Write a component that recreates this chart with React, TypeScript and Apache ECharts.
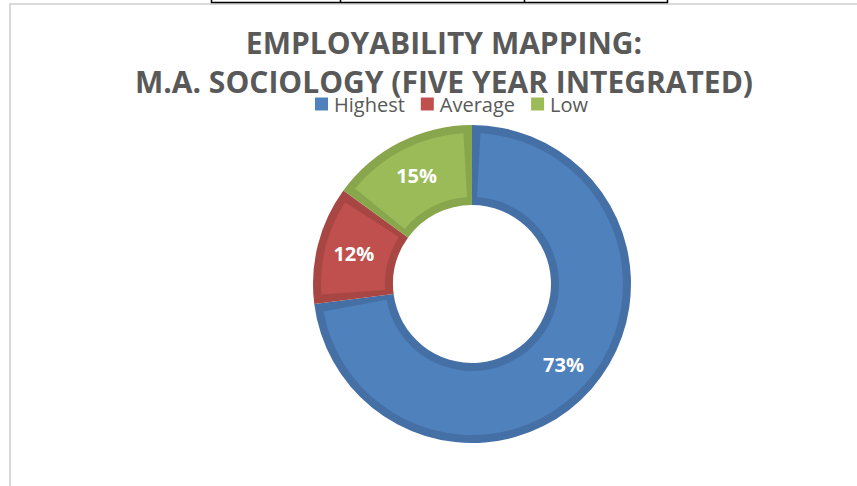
import React, { useEffect, useRef } from "react";
import * as echarts from "echarts";

const categories = ["Highest", "Average", "Low"];
const values = [73, 12, 15];
const fillColors = ["#4F81BD", "#C0504D", "#9BBB59"];
const edgeColors = ["#4570A6", "#A84643", "#88A64C"];
const titleLines = ["EMPLOYABILITY MAPPING:", "M.A. SOCIOLOGY (FIVE YEAR INTEGRATED)"];

export default function App() {
  const ref = useRef<HTMLDivElement>(null);
  useEffect(() => {
    if (!ref.current) return;
    const chart = echarts.init(ref.current, null, { renderer: "svg" });
    const font = "'Open Sans', 'Noto Sans', sans-serif";
    const center = [472, 284];
    chart.setOption({
      animation: false,
      backgroundColor: "#ffffff",
      title: {
        text: titleLines.join("\n"),
        left: 439,
        top: 18,
        textAlign: "center",
        textStyle: {
          fontFamily: font,
          fontSize: 30,
          fontWeight: "bold",
          color: "#595959",
          lineHeight: 39,
        },
      },
      legend: {
        data: categories,
        left: 310,
        top: 89,
        icon: "rect",
        itemWidth: 13,
        itemHeight: 13,
        itemGap: 16,
        selectedMode: false,
        textStyle: { fontFamily: font, fontSize: 20, color: "#595959", padding: [0, 0, 0, 1] },
      },
      graphic: [
        { type: "line", shape: { x1: 10, y1: 4, x2: 857, y2: 4 }, style: { stroke: "#d9d9d9", lineWidth: 2 } },
        { type: "line", shape: { x1: 10, y1: 3, x2: 10, y2: 486 }, style: { stroke: "#d9d9d9", lineWidth: 2 } },
        { type: "line", shape: { x1: 211, y1: 2.5, x2: 668, y2: 2.5 }, style: { stroke: "#000000", lineWidth: 1.5 } },
        { type: "line", shape: { x1: 211.5, y1: 0, x2: 211.5, y2: 3 }, style: { stroke: "#000000", lineWidth: 1.5 } },
        { type: "line", shape: { x1: 340.5, y1: 0, x2: 340.5, y2: 3 }, style: { stroke: "#000000", lineWidth: 1.5 } },
        { type: "line", shape: { x1: 524.5, y1: 0, x2: 524.5, y2: 3 }, style: { stroke: "#000000", lineWidth: 1.5 } },
        { type: "line", shape: { x1: 667.5, y1: 0, x2: 667.5, y2: 3 }, style: { stroke: "#000000", lineWidth: 1.5 } },
      ],
      series: [
        {
          type: "pie",
          name: "fill",
          z: 3,
          center,
          radius: [87, 151],
          startAngle: 90,
          clockwise: true,
          padAngle: 6.5,
          label: {
            show: true,
            position: "inside",
            formatter: "{d}%",
            color: "#ffffff",
            fontFamily: font,
            fontSize: 20,
            fontWeight: "bold",
          },
          labelLine: { show: false },
          itemStyle: { borderWidth: 0 },
          emphasis: { disabled: true },
          data: categories.map((c, i) => ({ name: c, value: values[i], itemStyle: { color: fillColors[i] } })),
        },
        {
          type: "pie",
          name: "edge",
          z: 2,
          silent: true,
          center,
          radius: [79, 159],
          startAngle: 90,
          clockwise: true,
          label: { show: false },
          labelLine: { show: false },
          itemStyle: { borderWidth: 0 },
          emphasis: { disabled: true },
          data: categories.map((c, i) => ({ name: c, value: values[i], itemStyle: { color: edgeColors[i] } })),
        },
      ],
    });
    return () => chart.dispose();
  }, []);
  return (
    <div
      ref={ref}
      style={{ position: "fixed", left: 0, top: 0, width: 857, height: 486 }}
    />
  );
}
